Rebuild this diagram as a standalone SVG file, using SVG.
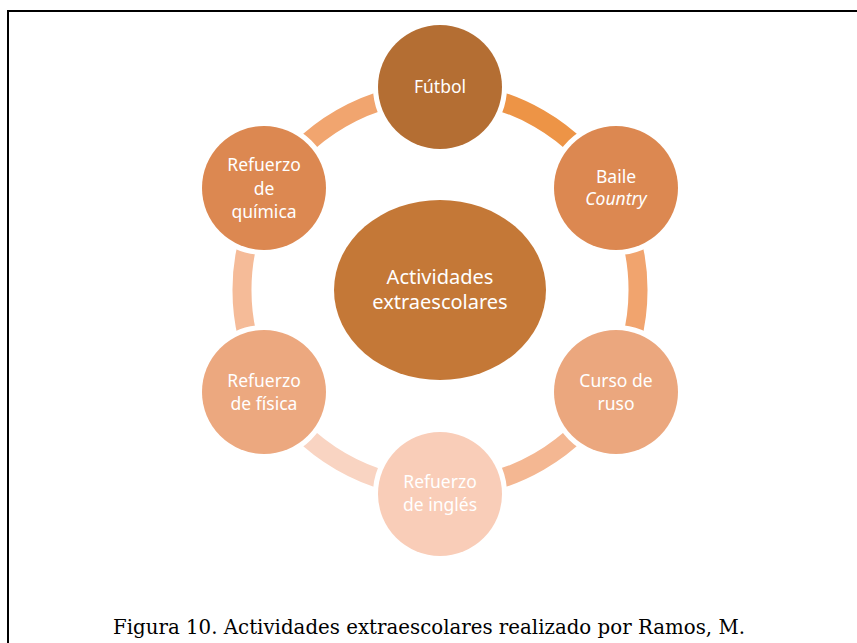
<svg xmlns="http://www.w3.org/2000/svg" width="857" height="643" viewBox="0 0 857 643">
<style>
.arc{fill:none;stroke-width:19}
.node{stroke:#ffffff;stroke-width:10;paint-order:stroke}
.lbl{font-family:"Noto Sans","Open Sans",sans-serif;font-size:17.5px;fill:#ffffff;text-anchor:middle}
.big{font-size:20px}
.cap{font-family:"DejaVu Serif","Liberation Serif",serif;font-size:20px;fill:#000000;text-anchor:middle}
</style>
<rect x="0" y="0" width="857" height="643" fill="#ffffff"/>
<rect x="8" y="11" width="900" height="700" fill="none" stroke="#000000" stroke-width="2"/>
<g id="connectors">
<path class="arc" stroke="#ED9446" d="M440 92 A198 198 0 0 1 611.5 191"/>
<path class="arc" stroke="#F1A46E" d="M611.5 191 A198 198 0 0 1 611.5 389"/>
<path class="arc" stroke="#F4B792" d="M611.5 389 A198 198 0 0 1 440 488"/>
<path class="arc" stroke="#F9D4C2" d="M440 488 A198 198 0 0 1 268.5 389"/>
<path class="arc" stroke="#F5BB98" d="M268.5 389 A198 198 0 0 1 268.5 191"/>
<path class="arc" stroke="#F1A56F" d="M268.5 191 A198 198 0 0 1 440 92"/>
</g>
<g id="center">
<ellipse cx="440" cy="290" rx="106" ry="90" fill="#C47837"/>
<text class="lbl big" x="440" y="284">Actividades</text>
<text class="lbl big" x="440" y="309">extraescolares</text>
</g>
<g id="futbol">
<circle class="node" cx="440" cy="87" r="62" fill="#B46E33"/>
<text class="lbl" x="440" y="93">Fútbol</text>
</g>
<g id="baile">
<circle class="node" cx="616" cy="188" r="62" fill="#DC8851"/>
<text class="lbl" x="616" y="183">Baile</text>
<text class="lbl" x="616" y="205" font-style="italic">Country</text>
</g>
<g id="curso">
<circle class="node" cx="616" cy="392" r="62" fill="#EBA77E"/>
<text class="lbl" x="616" y="387">Curso de</text>
<text class="lbl" x="616" y="410">ruso</text>
</g>
<g id="ingles">
<circle class="node" cx="440" cy="494" r="62" fill="#F9CDB8"/>
<text class="lbl" x="440" y="488">Refuerzo</text>
<text class="lbl" x="440" y="511">de inglés</text>
</g>
<g id="fisica">
<circle class="node" cx="264" cy="392" r="62" fill="#ECA87F"/>
<text class="lbl" x="264" y="387">Refuerzo</text>
<text class="lbl" x="264" y="410">de física</text>
</g>
<g id="quimica">
<circle class="node" cx="264" cy="188" r="62" fill="#DC8851"/>
<text class="lbl" x="264" y="171">Refuerzo</text>
<text class="lbl" x="264" y="195">de</text>
<text class="lbl" x="264" y="218">química</text>
</g>
<text class="cap" x="429" y="634" textLength="632" lengthAdjust="spacingAndGlyphs">Figura 10. Actividades extraescolares realizado por Ramos, M.</text>
</svg>
